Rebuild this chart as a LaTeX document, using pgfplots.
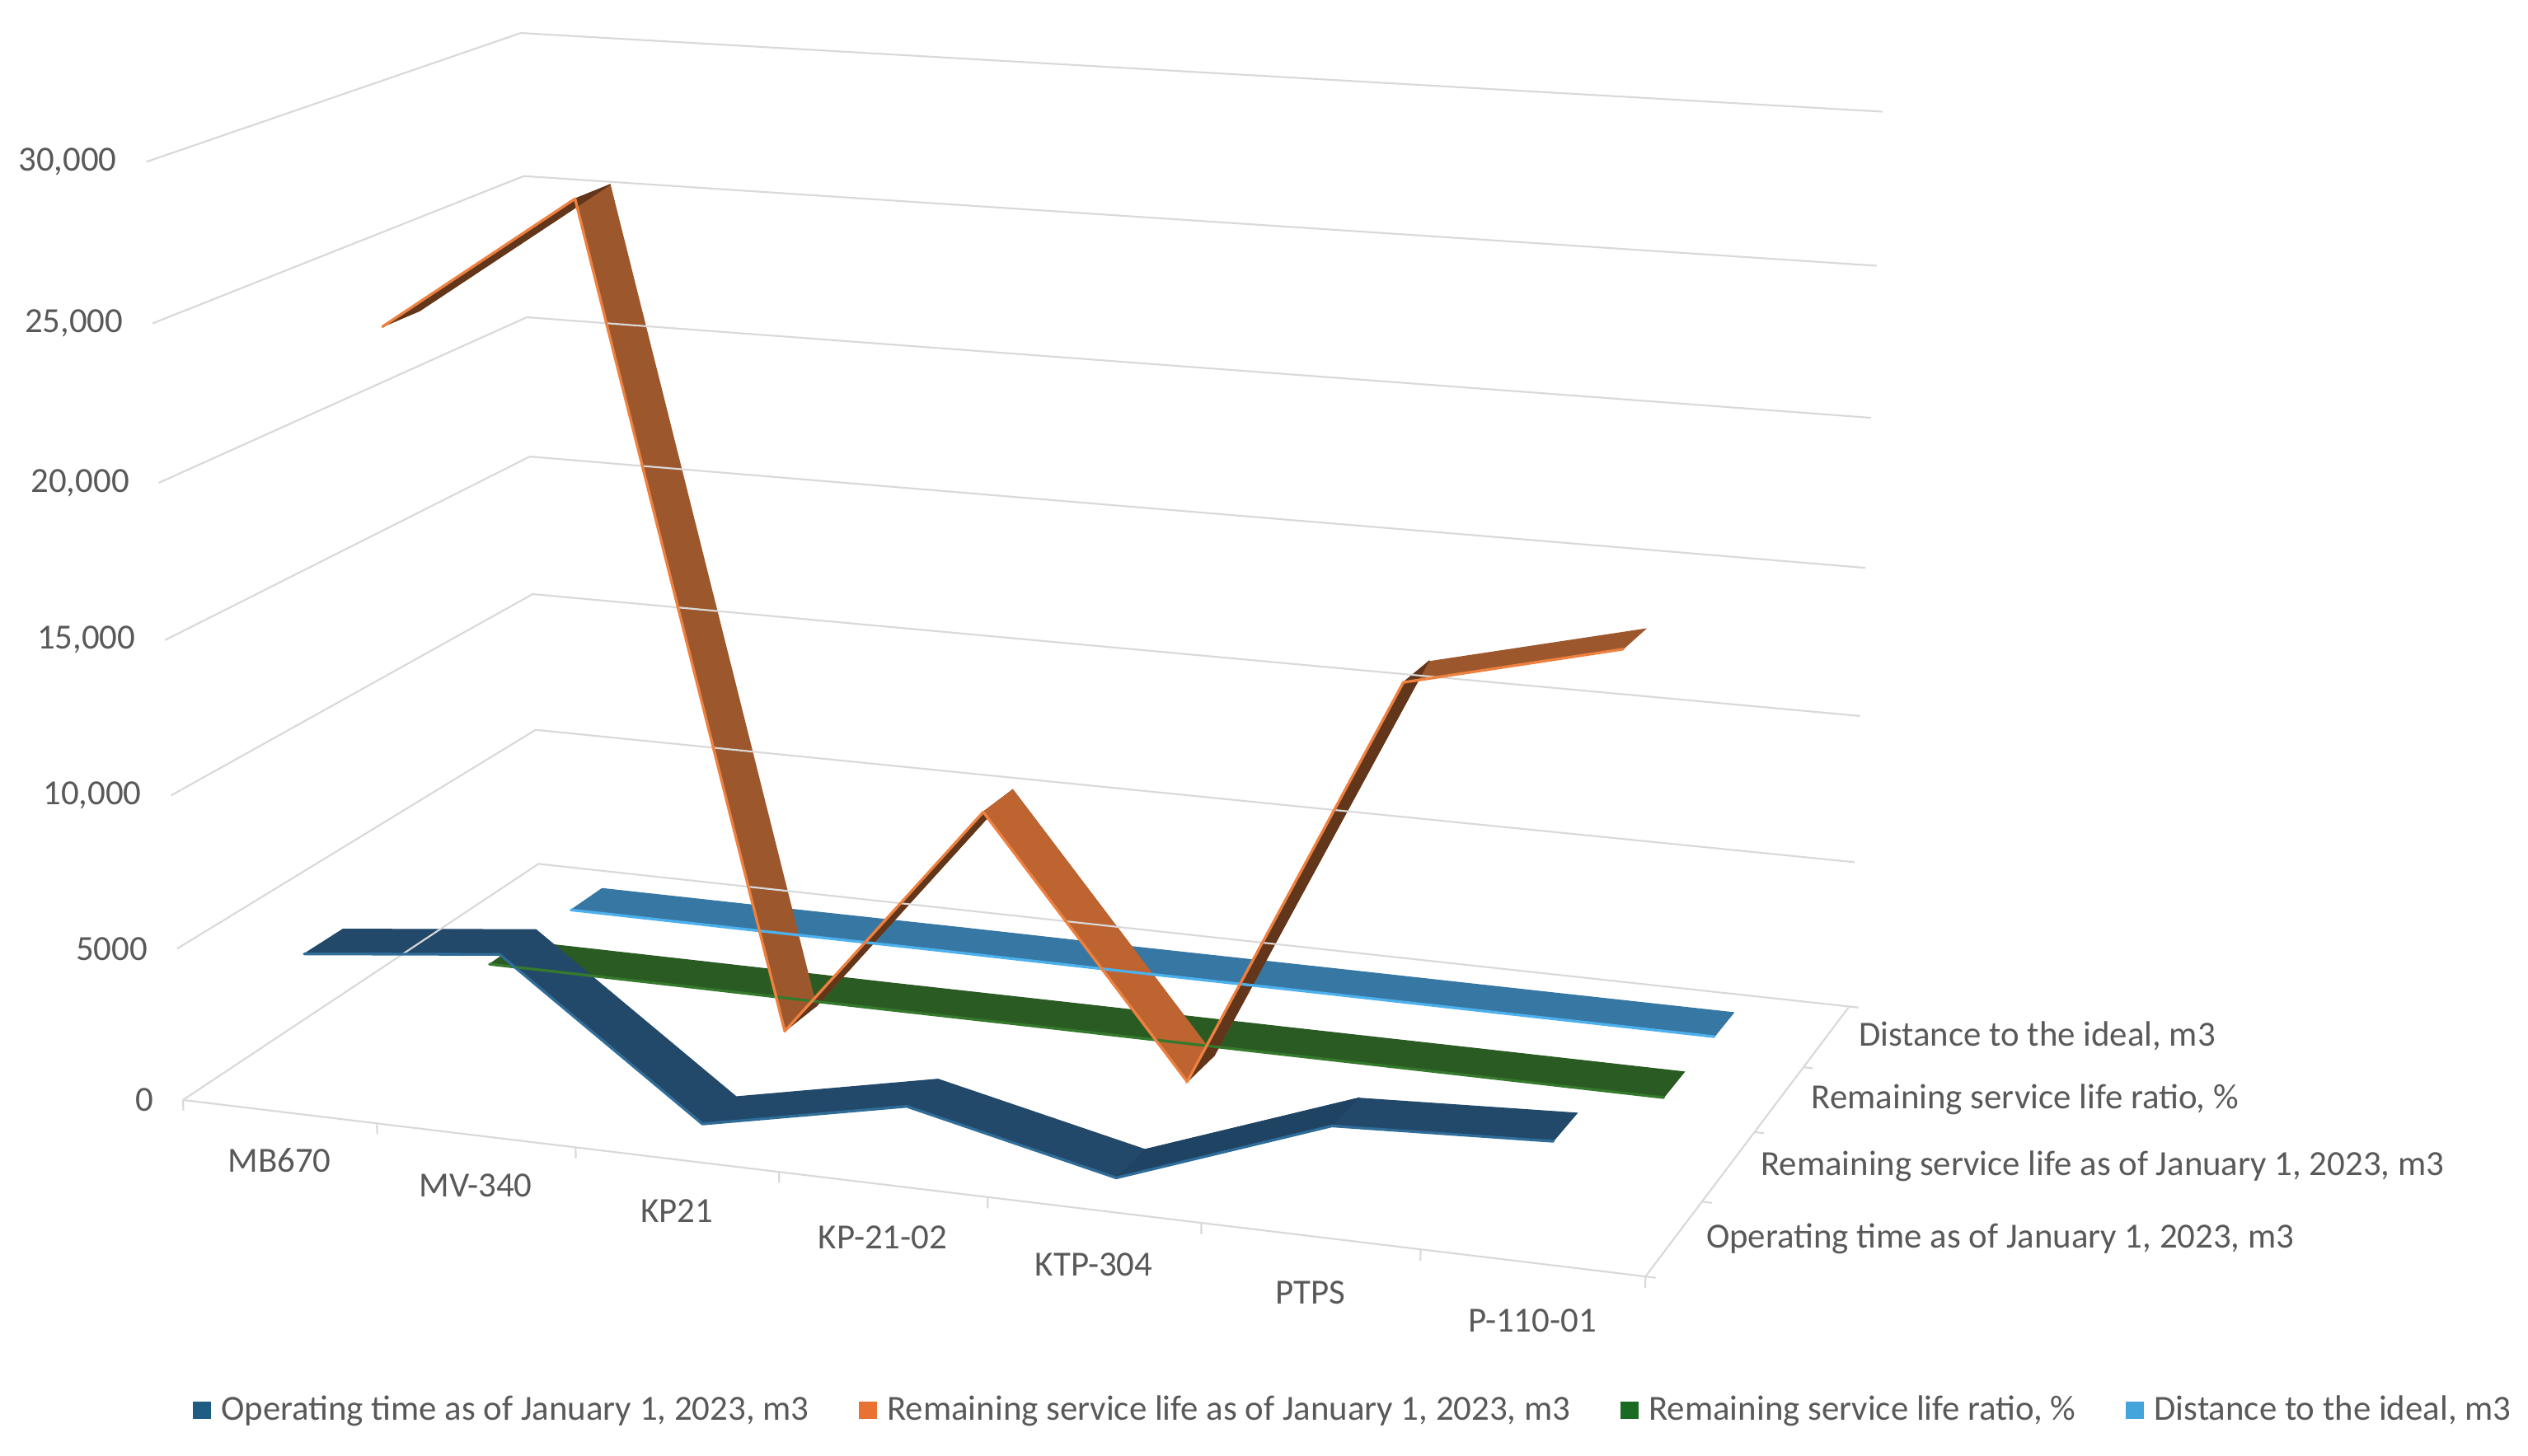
\documentclass[border=0pt]{standalone}
\usepackage{pgfplots}
\pgfplotsset{compat=1.18}
\usepackage{pgfplotstable}
\usepgfplotslibrary{fillbetween}
\usepackage{fontspec}
\setmainfont{Carlito}

\definecolor{txt}{HTML}{595959}
\definecolor{gridc}{HTML}{D9D9D9}
\definecolor{opTop}{HTML}{23496A}
\definecolor{opDark}{HTML}{1F4463}
\definecolor{opEdge}{HTML}{2F6D98}
\definecolor{opLeg}{HTML}{1F5C82}
\definecolor{reTop}{HTML}{9D572D}
\definecolor{reRise}{HTML}{62361A}
\definecolor{reFall}{HTML}{BE6430}
\definecolor{reEdge}{HTML}{EE8040}
\definecolor{reLeg}{HTML}{E97132}
\definecolor{raTop}{HTML}{2A5B23}
\definecolor{raEdge}{HTML}{357A2C}
\definecolor{raLeg}{HTML}{196B24}
\definecolor{diTop}{HTML}{3677A4}
\definecolor{diEdge}{HTML}{4CB0EC}
\definecolor{diLeg}{HTML}{44A4DC}

\newcommand\lbl{\fontsize{10.95pt}{13pt}\selectfont}

% ---- data (category index 0..6, value) ----
\pgfplotstableread{
idx v
0 4560
1 5240
2 470
3 1810
4 320
5 2730
6 3030
}\opdata
\pgfplotstableread{
idx v
0 23400
1 27900
2 1350
3 9270
4 1200
5 14620
6 16220
}\redata
\pgfplotstableread{
idx v
0 84
1 84
2 74
3 84
4 79
5 84
6 84
}\radata
\pgfplotstableread{
idx v
0 16
1 16
2 26
3 16
4 21
5 16
6 16
}\didata

\pgfplotstableread{
idx lab
0 MB670
1 MV-340
2 KP21
3 KP-21-02
4 KTP-304
5 PTPS
6 P-110-01
}\cats
\pgfplotstableread{
v lab
0 0
5000 5000
10000 10,000
15000 15,000
20000 20,000
25000 25,000
30000 30,000
}\vlabels
\pgfplotstableread{
d lab
0.5 {Operating time as of January 1, 2023, m3}
1.5 {Remaining service life as of January 1, 2023, m3}
2.5 {Remaining service life ratio, \%}
3.5 {Distance to the ideal, m3}
}\serlabels

% ---- frame of the 3-D box (category u 0..7, depth d 0..4) ----
\pgfplotstableread{
u d
0 0
0 4
7 4
}\wallpath
\pgfplotstableread{
u d
0 0
7 0
7 4
}\floorpath
\pgfplotstableread{
t k
0 0
-350 1
}\tickdown
\pgfplotstableread{
s k
7 0
7.045 1
}\tickright

% ribbon top face: #1 table, #2 depth centre, #3 colour, #4 name
\newcommand\ribbonface[4]{%
\addplot[draw=none, forget plot, name path=#4f] table[x expr={PX(\thisrow{idx}+0.5,#2-0.2,\thisrow{v})}, y expr={PY(\thisrow{idx}+0.5,#2-0.2,\thisrow{v})}] {#1};
\addplot[draw=none, forget plot, name path=#4b] table[x expr={PX(\thisrow{idx}+0.5,#2+0.2,\thisrow{v})}, y expr={PY(\thisrow{idx}+0.5,#2+0.2,\thisrow{v})}] {#1};
\addplot[fill=#3, draw=#3, line width=0.3pt, forget plot] fill between[of=#4f and #4b];
}
% one segment of a ribbon: #1 table, #2 depth, #3 colour, #4 first index, #5 second index, #6 name
\newcommand\ribbonseg[6]{%
\addplot[draw=none, forget plot, name path=#6f, restrict expr to domain={\coordindex}{#4:#5}] table[x expr={PX(\thisrow{idx}+0.5,#2-0.2,\thisrow{v})}, y expr={PY(\thisrow{idx}+0.5,#2-0.2,\thisrow{v})}] {#1};
\addplot[draw=none, forget plot, name path=#6b, restrict expr to domain={\coordindex}{#4:#5}] table[x expr={PX(\thisrow{idx}+0.5,#2+0.2,\thisrow{v})}, y expr={PY(\thisrow{idx}+0.5,#2+0.2,\thisrow{v})}] {#1};
\addplot[fill=#3, draw=#3, line width=0.3pt, forget plot] fill between[of=#6f and #6b];
}
% bright front edge: #1 table, #2 depth, #3 colour
\newcommand\ribbonedge[3]{%
\addplot[#3, line width=0.85pt, line join=round, line cap=round, forget plot] table[x expr={PX(\thisrow{idx}+0.5,#2-0.2,\thisrow{v})}, y expr={PY(\thisrow{idx}+0.5,#2-0.2,\thisrow{v})}] {#1};
}

\begin{document}
\begin{tikzpicture}[declare function={
 sa(\xu)=(\xu/7)/((\xu/7)+1.09*(1-\xu/7));
 sb(\xd)=(\xd/4)/((\xd/4)+0.87*(1-\xd/4));
 sc(\xv)=(\xv/30000)/((\xv/30000)+1.04*(1-\xv/30000));
 bil(\ba,\bb,\bp,\bq,\br,\bs)=(1-\ba)*(1-\bb)*\bp+\ba*(1-\bb)*\bq+(1-\ba)*\bb*\br+\ba*\bb*\bs;
 PX(\xu,\xd,\xv)=(1-sc(\xv))*bil(sa(\xu),sb(\xd),113.5,1020.6,334,1147)+sc(\xv)*bil(sa(\xu),sb(\xd),90.8,1038.9,323,1167.5);
 PY(\xu,\xd,\xv)=(1-sc(\xv))*bil(sa(\xu),sb(\xd),682.5,792,536,624.5)+sc(\xv)*bil(sa(\xu),sb(\xd),100.4,152,20.5,69.3);
}]
\path (0,0) rectangle (784pt,451.5pt);
\begin{axis}[
  at={(0,0)}, anchor=south west,
  scale only axis, width=784pt, height=451.5pt,
  xmin=0, xmax=1568, ymin=0, ymax=903, y dir=reverse,
  hide axis, clip=false,
  legend columns=4,
  legend image code/.code={\path[#1] (0pt,-2.8pt) rectangle (5.6pt,2.8pt);},
  legend style={at={(axis cs:119.5,875)}, anchor=west, draw=none, fill=none,
    inner sep=0pt, outer sep=0pt, font=\lbl, text=txt,
    nodes={inner sep=0pt},
    /tikz/every odd column/.append style={column sep=3.2pt},
    /tikz/every even column/.append style={column sep=15.5pt}},
]
% walls: value grid lines on the left and back walls
\pgfplotsinvokeforeach{0,5000,10000,15000,20000,25000,30000}{
\addplot[gridc, line width=0.55pt, forget plot] table[x expr={PX(\thisrow{u},\thisrow{d},#1)}, y expr={PY(\thisrow{u},\thisrow{d},#1)}] {\wallpath};
}
% floor front edge and depth edge
\addplot[gridc, line width=0.55pt, forget plot] table[x expr={PX(\thisrow{u},\thisrow{d},0)}, y expr={PY(\thisrow{u},\thisrow{d},0)}] {\floorpath};
\pgfplotsinvokeforeach{0,...,7}{
\addplot[gridc, line width=0.55pt, forget plot] table[x expr={PX(#1,0,\thisrow{t})}, y expr={PY(#1,0,\thisrow{t})}] {\tickdown};
}
\pgfplotsinvokeforeach{0,...,4}{
\addplot[gridc, line width=0.55pt, forget plot] table[x expr={PX(\thisrow{s},#1,0)}, y expr={PY(\thisrow{s},#1,0)}] {\tickright};
}

% ribbons, back to front
\ribbonface{\didata}{3.5}{diTop}{di}
\ribbonedge{\didata}{3.5}{diEdge}
\ribbonface{\radata}{2.5}{raTop}{ra}
\ribbonedge{\radata}{2.5}{raEdge}

\ribbonface{\redata}{1.5}{reTop}{re}
\ribbonseg{\redata}{1.5}{reRise}{0}{1}{reA}
\ribbonseg{\redata}{1.5}{reRise}{2}{3}{reC}
\ribbonseg{\redata}{1.5}{reFall}{3}{4}{reD}
\ribbonseg{\redata}{1.5}{reRise}{4}{5}{reE}
\ribbonedge{\redata}{1.5}{reEdge}

\ribbonface{\opdata}{0.5}{opTop}{op}
\ribbonseg{\opdata}{0.5}{opDark}{4}{5}{opE}
\ribbonedge{\opdata}{0.5}{opEdge}

% value labels
\addplot[draw=none, forget plot, nodes near coords, point meta=explicit symbolic,
  nodes near coords style={anchor=east, inner sep=0pt, font=\lbl, text=txt}]
  table[x expr={PX(0,0,\thisrow{v})-18}, y expr={PY(0,0,\thisrow{v})}, meta=lab] {\vlabels};
% category labels
\addplot[draw=none, forget plot, nodes near coords, point meta=explicit symbolic,
  nodes near coords style={anchor=center, inner sep=0pt, font=\lbl, text=txt}]
  table[x expr={PX(\thisrow{idx}+0.5,0,0)}, y expr={PY(\thisrow{idx}+0.5,0,0)+30+\thisrow{idx}}, meta=lab] {\cats};
% series labels on the depth axis
\addplot[draw=none, forget plot, nodes near coords, point meta=explicit symbolic,
  nodes near coords style={anchor=west, inner sep=0pt, font=\lbl, text=txt}]
  table[x expr={PX(7,\thisrow{d},0)+19.5}, y expr={PY(7,\thisrow{d},0)}, meta=lab] {\serlabels};

\addlegendimage{fill=opLeg, draw=none}
\addlegendentry{Operating time as of January 1, 2023, m3}
\addlegendimage{fill=reLeg, draw=none}
\addlegendentry{Remaining service life as of January 1, 2023, m3}
\addlegendimage{fill=raLeg, draw=none}
\addlegendentry{Remaining service life ratio, \%}
\addlegendimage{fill=diLeg, draw=none}
\addlegendentry{Distance to the ideal, m3}
\end{axis}
\end{tikzpicture}
\end{document}
